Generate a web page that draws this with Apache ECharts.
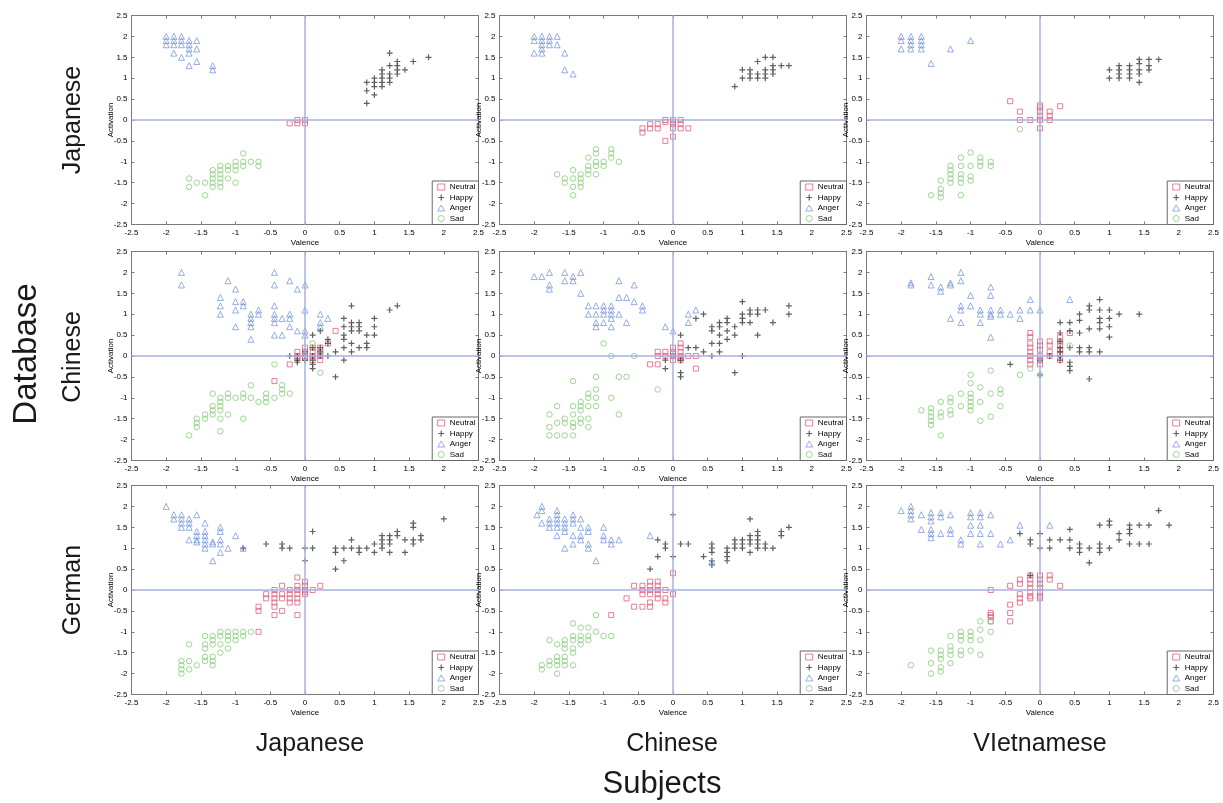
<!DOCTYPE html>
<html><head><meta charset="utf-8">
<script src="https://cdn.jsdelivr.net/npm/echarts@6/dist/echarts.min.js"></script>
<style>html,body{margin:0;padding:0;background:#fff}#c{width:1223px;height:803px}</style>
</head><body><div id="c"></div>
<script>
// ---- labels ----
const categories = ['Neutral', 'Happy', 'Anger', 'Sad'];
const databases = ['Japanese', 'Chinese', 'German'];
const subjects = ['Japanese', 'Chinese', 'VIetnamese'];
const axisMin = -2.5, axisMax = 2.5, axisStep = 0.5;
const xName = 'Valence', yName = 'Activation';
const rowTitle = 'Database', colTitle = 'Subjects';

// ---- data: each entry is [valence, [activation values at that valence]] ----
// Database Japanese / Subjects Japanese
const jaJaNeutral = [[-0.22,[-0.08]],[-0.11,[-0.08,0]],[0,[0,-0.08]]];
const jaJaHappy = [[0.89,[0.9,0.7,0.4]],[1.0,[1.0,0.9,0.8,0.6]],[1.11,[1.2,1.1,1.0,0.9,0.8]],[1.22,[1.6,1.3,1.1,1.0,0.9]],[1.33,[1.4,1.3,1.2,1.1]],[1.44,[1.2]],[1.56,[1.4]],[1.78,[1.5]]];
const jaJaAnger = [[-2.0,[2.0,1.9,1.8]],[-1.89,[2.0,1.9,1.8,1.6]],[-1.78,[2.0,1.9,1.8,1.5]],[-1.67,[1.9,1.8,1.7,1.6,1.3]],[-1.56,[1.9,1.7,1.4]],[-1.33,[1.3,1.2]]];
const jaJaSad = [[-1.67,[-1.4,-1.6]],[-1.56,[-1.5]],[-1.44,[-1.5,-1.8]],[-1.33,[-1.2,-1.3,-1.4,-1.5,-1.6]],[-1.22,[-1.1,-1.2,-1.3,-1.4,-1.5,-1.6]],[-1.11,[-1.1,-1.2,-1.4]],[-1.0,[-1.0,-1.1,-1.2,-1.5]],[-0.89,[-0.8,-1.0,-1.1]],[-0.78,[-1.0]],[-0.67,[-1.0,-1.1]]];
// Database Japanese / Subjects Chinese
const jaChNeutral = [[-0.44,[-0.2,-0.3]],[-0.33,[-0.1,-0.2]],[-0.22,[-0.1,-0.2]],[-0.11,[0,-0.05,-0.5]],[0,[0,-0.05,-0.1,-0.2,-0.4]],[0.11,[0,-0.1,-0.2]],[0.22,[-0.2]]];
const jaChHappy = [[0.89,[0.8]],[1.0,[1.2,1.0]],[1.11,[1.2,1.1,1.0]],[1.22,[1.4,1.1,1.0]],[1.33,[1.5,1.2,1.1,1.0]],[1.44,[1.5,1.3,1.2,1.1]],[1.56,[1.3]],[1.67,[1.3]]];
const jaChAnger = [[-2.0,[2.0,1.9,1.6]],[-1.89,[2.0,1.9,1.8,1.7,1.6]],[-1.78,[2.0,1.9,1.8]],[-1.67,[2.0,1.8]],[-1.56,[1.6,1.2]],[-1.44,[1.1]]];
const jaChSad = [[-1.67,[-1.3]],[-1.56,[-1.4,-1.5]],[-1.44,[-1.2,-1.4,-1.6,-1.8]],[-1.33,[-1.3,-1.4,-1.5,-1.6]],[-1.22,[-0.9,-1.1,-1.2,-1.3]],[-1.11,[-0.7,-0.8,-1.0,-1.1,-1.3]],[-1.0,[-1.0,-1.1]],[-0.89,[-0.7,-0.8,-0.9]],[-0.78,[-1.0]]];
// Database Japanese / Subjects Vietnamese
const jaViNeutral = [[-0.43,[0.45]],[-0.29,[0.2,0.0]],[-0.14,[0.0]],[0,[0.35,0.3,0.2,0.1,0.0,-0.2]],[0.14,[0.2,0.1,0.0]],[0.29,[0.33]]];
const jaViHappy = [[1.0,[1.2,1.0]],[1.14,[1.3,1.2,1.1,1.0]],[1.29,[1.3,1.2,1.1,1.0]],[1.43,[1.45,1.35,1.2,1.1,0.9]],[1.57,[1.45,1.3,1.2]],[1.71,[1.45]]];
const jaViAnger = [[-2.0,[2.0,1.9,1.7]],[-1.86,[2.0,1.9,1.8,1.7]],[-1.71,[2.0,1.9,1.8,1.7]],[-1.57,[1.35]],[-1.29,[1.7]],[-1.0,[1.9]]];
const jaViSad = [[-1.57,[-1.8]],[-1.43,[-1.45,-1.65,-1.75,-1.85]],[-1.29,[-1.1,-1.2,-1.3,-1.4,-1.5]],[-1.14,[-0.9,-1.1,-1.3,-1.4,-1.5,-1.8]],[-1.0,[-0.78,-1.1,-1.35,-1.45]],[-0.86,[-0.9,-1.0,-1.1]],[-0.71,[-1.0,-1.1]],[-0.29,[-0.22]]];
// Database Chinese / Subjects Japanese
const chJaNeutral = [[-0.44,[-0.6]],[-0.22,[-0.2]],[-0.11,[0.1,0.0,-0.05]],[0,[0.2,0.1,0.0,-0.05]],[0.11,[0.2,0.1,0.0,-0.1]],[0.22,[0.2,0.1,0.0,-0.1]],[0.33,[0.3]],[0.44,[0.6]]];
const chJaHappy = [[-0.22,[0.0]],[-0.11,[0.0,-0.1,-0.15]],[0,[0.1,0.0,-0.1]],[0.11,[0.5,0.2,0.0,-0.1,-0.2,-0.3]],[0.22,[0.6,0.2,0.1,0.0]],[0.33,[0.4,0.3,0.0]],[0.44,[0.1,-0.5]],[0.56,[0.9,0.7,0.5,0.4,0.2,-0.1]],[0.67,[1.2,0.8,0.7,0.6,0.3,0.1]],[0.78,[0.8,0.7,0.6,0.2]],[0.89,[0.5,0.3,0.2]],[1.0,[0.9,0.7,0.5]],[1.22,[1.1]],[1.33,[1.2]]];
const chJaAnger = [[-1.78,[2.0,1.7]],[-1.22,[1.4,1.2,1.0]],[-1.11,[1.8]],[-1.0,[1.6,1.3,1.1,0.7]],[-0.89,[1.3,1.2]],[-0.78,[1.0,0.9,0.8,0.7,0.4]],[-0.67,[1.1,1.0]],[-0.44,[2.0,1.7,1.2,1.0,0.9,0.8,0.5]],[-0.33,[0.9,0.5]],[-0.22,[1.8,1.0,0.9,0.7]],[-0.11,[1.6,0.6]],[0,[1.7,1.1,0.6,0.5]],[0.22,[1.0,0.8,0.7]],[0.33,[0.9]]];
const chJaSad = [[-1.67,[-1.9]],[-1.56,[-1.5,-1.6,-1.7]],[-1.44,[-1.4,-1.5]],[-1.33,[-0.9,-1.2,-1.3,-1.4]],[-1.22,[-1.0,-1.1,-1.2,-1.3,-1.5,-1.8]],[-1.11,[-0.9,-1.0,-1.4]],[-1.0,[-1.0]],[-0.89,[-0.9,-1.0,-1.5]],[-0.78,[-0.7,-1.0]],[-0.67,[-1.1]],[-0.56,[-0.9,-1.0,-1.1]],[-0.44,[-0.2,-1.0]],[-0.33,[-0.7,-0.8,-0.9]],[-0.22,[-0.9]],[0.11,[0.3]],[0.22,[-0.4]]];
// Database Chinese / Subjects Chinese
const chChNeutral = [[-0.33,[-0.2]],[-0.22,[0.1,0.0,-0.2]],[-0.11,[0.1,0.0]],[0,[0.2,0.1,0.05,0.0,-0.1]],[0.11,[0.3,0.2,0.1,0.0,-0.05,-0.1]],[0.22,[0.0]],[0.33,[0.0,-0.3]]];
const chChHappy = [[-0.11,[-0.1,-0.3]],[0,[0.0]],[0.11,[0.5,-0.1,-0.4,-0.5]],[0.22,[0.2]],[0.33,[0.9,0.2]],[0.44,[1.0,0.1]],[0.56,[0.7,0.6,0.3,0.0]],[0.67,[0.8,0.7,0.5,0.3,0.1]],[0.78,[0.9,0.8,0.6,0.4]],[0.89,[0.7,0.5,-0.4]],[1.0,[1.3,1.0,0.9,0.8,0.0]],[1.11,[1.1,1.0,0.8]],[1.22,[1.1,1.0,0.5]],[1.33,[1.1]],[1.44,[0.8]],[1.67,[1.2,1.0]]];
const chChAnger = [[-2.0,[1.9]],[-1.89,[1.9]],[-1.78,[2.0,1.7,1.6]],[-1.56,[2.0,1.8]],[-1.44,[1.9,1.8]],[-1.33,[2.0,1.5]],[-1.22,[1.2,1.0]],[-1.11,[1.2,1.0,0.8,0.7]],[-1.0,[1.2,1.1,1.0,0.8]],[-0.89,[1.2,1.1,1.0,0.9,0.7]],[-0.78,[1.8,1.4,1.0]],[-0.67,[1.4,0.8]],[-0.56,[1.7,1.3]],[-0.44,[1.2,1.1]],[-0.11,[0.7]],[0,[0.6]],[0.22,[1.0,0.8]],[0.33,[1.1]]];
const chChSad = [[-1.78,[-1.4,-1.7,-1.9]],[-1.67,[-1.2,-1.6,-1.9]],[-1.56,[-1.5,-1.6,-1.9]],[-1.44,[-0.6,-1.2,-1.4,-1.6,-1.7,-1.9]],[-1.33,[-1.1,-1.2,-1.3,-1.5,-1.6]],[-1.22,[-0.9,-1.0,-1.2,-1.5,-1.7]],[-1.11,[-0.5,-0.8,-1.0,-1.2]],[-1.0,[0.3]],[-0.89,[0.0,-1.0]],[-0.78,[-0.5,-1.4]],[-0.67,[-0.5]],[-0.56,[0.0]],[-0.22,[-0.8]]];
// Database Chinese / Subjects Vietnamese
const chViNeutral = [[-0.14,[0.55,0.45,0.3,0.2,0.1,0.0,-0.1,-0.2]],[0,[0.35,0.25,0.15,0.0,-0.1,-0.2]],[0.14,[0.35,0.25,0.1,0.0]],[0.29,[0.45,0.35,0.25,0.15,0.05,-0.1]],[0.43,[0.55]]];
const chViHappy = [[-0.43,[-0.2]],[0,[-0.1,-0.45]],[0.14,[0.0]],[0.29,[0.8,0.55,0.35,0.2,0.1,0.0,-0.1]],[0.43,[0.8,0.6,0.2,-0.15,-0.25,-0.35]],[0.57,[1.0,0.85,0.55,0.2,0.1]],[0.71,[1.2,1.1,0.65,0.2,0.1,-0.55]],[0.86,[1.35,1.1,0.9,0.8,0.65,0.1]],[1.0,[1.1,0.9,0.7,0.45]],[1.14,[1.0]],[1.43,[1.0]]];
const chViAnger = [[-1.86,[1.75,1.7]],[-1.57,[1.9,1.7]],[-1.43,[1.65,1.55]],[-1.29,[1.75,1.7,0.9]],[-1.14,[2.0,1.8,1.2,1.1,0.8]],[-1.0,[1.45,1.2]],[-0.86,[1.1,1.0,0.8]],[-0.71,[1.65,1.45,1.1,1.0,0.95,0.45]],[-0.57,[1.1,1.0]],[-0.43,[1.0]],[-0.29,[1.1,0.9]],[-0.14,[1.35,1.1]],[0,[1.1]],[0.43,[1.35]]];
const chViSad = [[-1.71,[-1.3]],[-1.57,[-1.25,-1.35,-1.45,-1.55,-1.65]],[-1.43,[-1.1,-1.35,-1.45,-1.9]],[-1.29,[-1.0,-1.1,-1.3,-1.4]],[-1.14,[-0.9,-1.2]],[-1.0,[-0.45,-0.65,-0.9,-1.0,-1.1,-1.2,-1.3]],[-0.86,[-0.75,-1.1,-1.55]],[-0.71,[-0.35,-0.9,-1.45]],[-0.57,[-0.8,-0.9,-1.2]],[-0.29,[-0.45]],[-0.14,[-0.3]],[0,[-0.45]],[0.43,[0.25]]];
// Database German / Subjects Japanese
const geJaNeutral = [[-0.67,[-0.4,-0.5,-1.0]],[-0.56,[-0.1,-0.2]],[-0.44,[0.0,-0.1,-0.2,-0.3,-0.4,-0.6]],[-0.33,[0.1,-0.1,-0.2,-0.5]],[-0.22,[0.0,-0.1,-0.2,-0.3]],[-0.11,[0.3,0.1,0.0,-0.1,-0.2,-0.3,-0.6]],[0,[0.2,0.1,0.0,-0.05,-0.1]],[0.11,[0.0]],[0.22,[0.1]]];
const geJaHappy = [[-0.89,[1.0]],[-0.56,[1.1]],[-0.33,[1.1,1.0]],[-0.22,[1.0]],[0,[1.0,0.7]],[0.11,[1.4,1.0]],[0.44,[1.0,0.9,0.5]],[0.56,[1.0,0.7]],[0.67,[1.2,1.0]],[0.78,[1.0,0.9]],[0.89,[1.0]],[1.0,[1.1,0.9]],[1.11,[1.3,1.2,1.1,1.0]],[1.22,[1.3,1.2,1.1,0.9]],[1.33,[1.4,1.3]],[1.44,[1.2,0.9]],[1.56,[1.6,1.5,1.2,1.1]],[1.67,[1.3,1.2]],[2.0,[1.7]]];
const geJaAnger = [[-2.0,[2.0]],[-1.89,[1.8,1.7]],[-1.78,[1.8,1.7,1.6,1.5]],[-1.67,[1.7,1.6,1.5,1.2]],[-1.56,[1.8,1.4,1.3,1.2,1.15]],[-1.44,[1.6,1.4,1.3,1.2,1.1,1.0]],[-1.33,[1.15,1.1,0.7]],[-1.22,[1.5,1.4,1.2,1.1,0.9]],[-1.11,[1.0]],[-1.0,[1.3]],[-0.89,[1.0]]];
const geJaSad = [[-1.78,[-1.7,-1.8,-1.9,-2.0]],[-1.67,[-1.3,-1.7,-1.9]],[-1.56,[-1.8]],[-1.44,[-1.1,-1.3,-1.4,-1.6,-1.7]],[-1.33,[-1.1,-1.2,-1.3,-1.6,-1.7,-1.8]],[-1.22,[-1.0,-1.1,-1.3,-1.5]],[-1.11,[-1.0,-1.1,-1.2,-1.4]],[-1.0,[-1.0,-1.1,-1.2]],[-0.89,[-1.0,-1.1]],[-0.78,[-1.0]]];
// Database German / Subjects Chinese
const geChNeutral = [[-0.89,[-0.6]],[-0.67,[-0.2]],[-0.56,[0.1,-0.4]],[-0.44,[0.1,0.0,-0.1,-0.4]],[-0.33,[0.2,0.1,0.0,-0.1,-0.3,-0.4]],[-0.22,[0.2,0.1,0.0,-0.1,-0.2]],[-0.11,[0.0,-0.2,-0.3]],[0,[0.4,-0.1]]];
const geChHappy = [[-0.33,[0.5]],[-0.22,[1.2,0.8]],[-0.11,[1.1,1.0]],[0,[1.8,0.8]],[0.11,[1.1]],[0.22,[1.1]],[0.44,[0.8]],[0.56,[1.1,1.0,0.9,0.7,0.6]],[0.78,[1.0,0.9,0.8,0.7]],[0.89,[1.2,1.1,1.0]],[1.0,[1.2,1.1,1.0]],[1.11,[1.7,1.3,1.2,1.1,0.9]],[1.22,[1.4,1.3,1.2,1.1,1.0]],[1.33,[1.1,1.0]],[1.44,[1.0]],[1.56,[1.4,1.3]],[1.67,[1.5]]];
const geChAnger = [[-1.96,[1.8]],[-1.89,[2.0,1.9,1.6]],[-1.78,[1.7,1.6,1.5]],[-1.67,[1.9,1.8,1.7,1.6,1.5,1.3]],[-1.56,[1.7,1.6,1.5,1.4,1.0]],[-1.44,[1.8,1.7,1.6,1.3,1.1]],[-1.33,[1.7,1.5,1.3,1.2]],[-1.22,[1.5,1.4,1.1,1.0]],[-1.11,[0.7]],[-1.0,[1.5,1.3,1.2]],[-0.89,[1.2,1.1]],[-0.78,[1.2]],[-0.33,[1.3]],[0.56,[0.68]]];
const geChSad = [[-1.89,[-1.8,-1.9]],[-1.78,[-1.2,-1.7,-1.8]],[-1.67,[-1.3,-1.6,-1.7,-1.8,-2.0]],[-1.56,[-1.2,-1.3,-1.4,-1.6,-1.7,-1.8]],[-1.44,[-0.8,-1.1,-1.2,-1.4,-1.5,-1.8]],[-1.33,[-0.9,-1.1,-1.2,-1.3]],[-1.22,[-0.9,-1.1,-1.2]],[-1.11,[-0.6,-1.0]],[-1.0,[-1.1]],[-0.89,[-1.1]]];
// Database German / Subjects Vietnamese
const geViNeutral = [[-0.71,[0.0,-0.55,-0.6,-0.65,-0.75]],[-0.43,[0.1,-0.35,-0.55,-0.75]],[-0.29,[0.25,0.15,-0.1,-0.2,-0.3]],[-0.14,[0.35,0.25,0.15,0.05,-0.05,-0.15,-0.2]],[0,[0.35,0.25,0.15,0.05,-0.05,-0.15,-0.2]],[0.14,[0.35,0.25]],[0.29,[0.1]]];
const geViHappy = [[-0.29,[1.35]],[-0.14,[1.2,1.1,0.35]],[0,[1.35,1.0]],[0.14,[1.2,1.0]],[0.29,[1.2]],[0.43,[1.45,1.2,1.0]],[0.57,[1.1,1.0,0.9]],[0.71,[1.0,0.65]],[0.86,[1.55,1.1,1.0,0.9]],[1.0,[1.65,1.55,1.0]],[1.14,[1.35,1.2]],[1.29,[1.55,1.45,1.35,1.1]],[1.43,[1.55,1.1]],[1.57,[1.55,1.1]],[1.71,[1.9]],[1.86,[1.55]]];
const geViAnger = [[-2.0,[1.9]],[-1.86,[2.0,1.9,1.8,1.7]],[-1.71,[1.8,1.45]],[-1.57,[1.85,1.75,1.65,1.45,1.35,1.25]],[-1.43,[1.85,1.75,1.35]],[-1.29,[1.8,1.45,1.35]],[-1.14,[1.2,1.1]],[-1.0,[1.85,1.75,1.55,1.35]],[-0.86,[1.85,1.75,1.55,1.35,1.1]],[-0.71,[1.8,1.35]],[-0.57,[1.1]],[-0.43,[1.2]],[-0.29,[1.55]],[0.14,[1.55]]];
const geViSad = [[-1.86,[-1.8]],[-1.57,[-1.45,-1.75,-2.0]],[-1.43,[-1.45,-1.55,-1.65,-1.85,-1.95]],[-1.29,[-1.1,-1.35,-1.45,-1.55,-1.75]],[-1.14,[-1.0,-1.1,-1.2,-1.45,-1.55]],[-1.0,[-1.0,-1.1,-1.2,-1.45]],[-0.86,[-0.75,-0.95,-1.2,-1.55]],[-0.71,[-0.75,-1.0]]];

// panels[row = database][col = subjects]
const panels = [
  [[jaJaNeutral, jaJaHappy, jaJaAnger, jaJaSad], [jaChNeutral, jaChHappy, jaChAnger, jaChSad], [jaViNeutral, jaViHappy, jaViAnger, jaViSad]],
  [[chJaNeutral, chJaHappy, chJaAnger, chJaSad], [chChNeutral, chChHappy, chChAnger, chChSad], [chViNeutral, chViHappy, chViAnger, chViSad]],
  [[geJaNeutral, geJaHappy, geJaAnger, geJaSad], [geChNeutral, geChHappy, geChAnger, geChSad], [geViNeutral, geViHappy, geViAnger, geViSad]]
];

// ---- layout & style ----
const CW = 1223, CH = 803;
const colLeft = [131.5, 499.5, 866.5], rowTop = [15.5, 251.5, 485.5];
const PW = 347, PH = 209;
const FONT = '"Liberation Sans", Arial, Helvetica, sans-serif';
const colors = { Neutral: '#e2607a', Happy: '#3a3a3a', Anger: '#7b99df', Sad: '#85cc78' };
const PLUS = 'path://M4,0H6V4H10V6H6V10H4V6H0V4H4Z';
const symbols = { Neutral: 'rect', Happy: PLUS, Anger: 'triangle', Sad: 'circle' };
const sizes = { Neutral: 5, Happy: 6, Anger: 6, Sad: 5.5 };
function styleFor(n) {
  return n === 'Happy' ? { color: colors[n] }
    : { color: 'rgba(255,255,255,0)', borderColor: colors[n], borderWidth: 1 };
}
const flatten = cols => cols.flatMap(([x, ys]) => ys.map(y => [x, y]));

const frameLine = { show: true, onZero: false, lineStyle: { color: '#7a7a7a', width: 1 } };
const tick = { show: true, inside: true, length: 3, lineStyle: { color: '#7a7a7a' } };
const lbl = { fontSize: 8, color: '#000', fontFamily: FONT, margin: 4 };

const grid = [], xAxis = [], yAxis = [], series = [], legend = [];
for (let r = 0; r < 3; r++) {
  for (let c = 0; c < 3; c++) {
    const i = r * 3 + c;
    grid.push({ left: colLeft[c], top: rowTop[r], width: PW, height: PH, containLabel: false, outerBoundsMode: 'none' });
    const common = { gridIndex: i, type: 'value', min: axisMin, max: axisMax, interval: axisStep, splitLine: { show: false }, axisLine: frameLine, axisTick: tick };
    xAxis.push(Object.assign({}, common, { position: 'bottom', axisLabel: lbl, name: xName, nameLocation: 'middle', nameGap: 14, nameMoveOverlap: false, nameTextStyle: { fontSize: 8, color: '#000', fontFamily: FONT } }));
    xAxis.push(Object.assign({}, common, { position: 'top', axisLabel: { show: false } }));
    yAxis.push(Object.assign({}, common, { position: 'left', axisLabel: lbl, name: yName, nameLocation: 'middle', nameGap: 17, nameMoveOverlap: false, nameTextStyle: { fontSize: 8, color: '#000', fontFamily: FONT } }));
    yAxis.push(Object.assign({}, common, { position: 'right', axisLabel: { show: false } }));
    // zero lines
    series.push({
      type: 'scatter', name: '_zero', xAxisIndex: 2 * i, yAxisIndex: 2 * i, data: [], z: 1, silent: true,
      markLine: { silent: true, symbol: ['none', 'none'], label: { show: false }, animation: false,
        lineStyle: { color: '#a7b1e2', width: 1.5, type: 'solid' }, emphasis: { disabled: true },
        data: [{ xAxis: 0 }, { yAxis: 0 }] }
    });
    categories.forEach((n, k) => {
      series.push({
        type: 'scatter', name: n, xAxisIndex: 2 * i, yAxisIndex: 2 * i, z: 2,
        symbol: symbols[n], symbolSize: sizes[n], itemStyle: styleFor(n),
        emphasis: { disabled: true }, data: flatten(panels[r][c][k])
      });
    });
    legend.push({
      show: true, orient: 'vertical', selectedMode: false,
      right: CW - (colLeft[c] + PW), bottom: CH - (rowTop[r] + PH),
      backgroundColor: '#fff', borderColor: '#666', borderWidth: 1, borderRadius: 0,
      padding: [2, 3, 2, 5], itemGap: 2.5, itemWidth: 7, itemHeight: 6,
      textStyle: { fontSize: 8, color: '#000', fontFamily: FONT },
      data: categories.map(n => ({ name: n, icon: symbols[n], itemStyle: styleFor(n) }))
    });
  }
}

const textEl = (text, x, y, size, rot) => ({
  type: 'text', x, y, rotation: rot || 0, silent: true,
  style: { text, font: size + 'px ' + FONT, fill: '#1a1a1a', align: 'center', verticalAlign: 'middle', textAlign: 'center', textVerticalAlign: 'middle' }
});
const graphic = [
  textEl(rowTitle, 27, 354, 33, Math.PI / 2),
  textEl(colTitle, 662, 784, 31, 0)
];
const rowCenters = [120, 357, 590], colCenters = [310, 672, 1040];
databases.forEach((d, r) => graphic.push(textEl(d, 73, rowCenters[r], 25, Math.PI / 2)));
subjects.forEach((s, c) => graphic.push(textEl(s, colCenters[c], 744, 25, 0)));

const chart = echarts.init(document.getElementById('c'), null, { renderer: 'canvas' });
chart.setOption({ animation: false, backgroundColor: '#fff', grid, xAxis, yAxis, series, legend, graphic });
</script></body></html>
